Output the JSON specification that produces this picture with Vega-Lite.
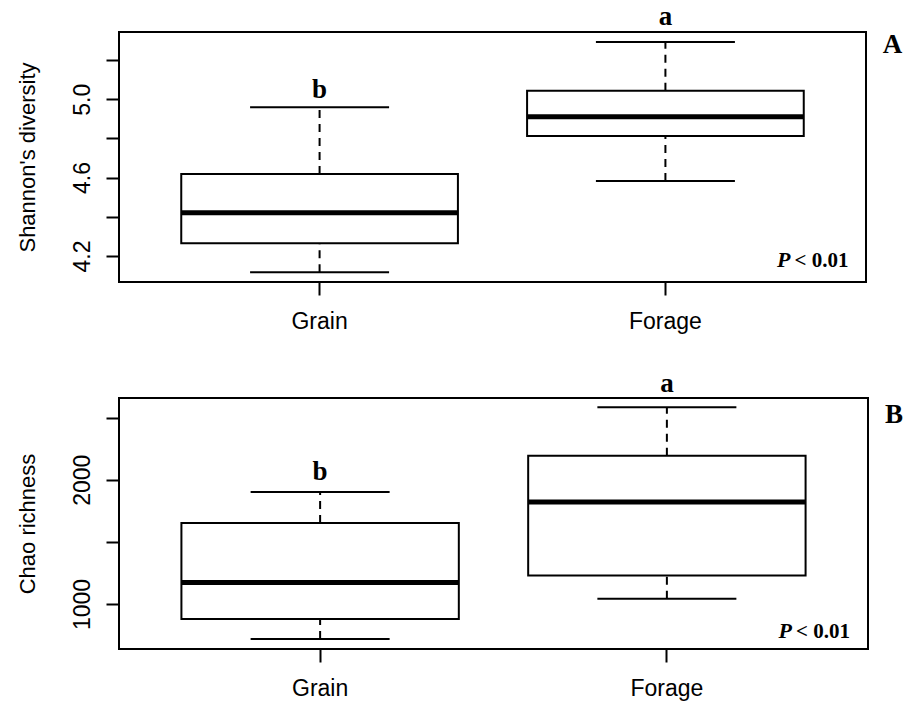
{
  "$schema": "https://vega.github.io/schema/vega-lite/v6.json",
  "background": "white",
  "padding": {"left": 15, "top": 1, "right": 0, "bottom": 0},
  "spacing": 34,
  "config": {
    "view": {"stroke": "black", "strokeWidth": 2},
    "axis": {"labelFont": "Liberation Sans", "labelFontSize": 23, "labelColor": "black", "titleFont": "Liberation Sans", "titleFontSize": 22, "titleFontWeight": "normal", "titleColor": "black", "tickColor": "black", "tickWidth": 2, "tickSize": 13, "grid": false, "domain": false, "labelOverlap": false},
    "axisX": {"labelAngle": 0, "labelPadding": 15},
    "axisY": {"labelAngle": 270, "labelAlign": "center", "labelBaseline": "alphabetic", "labelPadding": 17, "titleAngle": 270, "titleBaseline": "alphabetic", "titleX": -85}
  },
  "datasets": {
    "shannon": [
      {"group": "Grain", "lower": 4.117, "q1": 4.265, "median": 4.421, "q3": 4.618, "upper": 4.959},
      {"group": "Forage", "lower": 4.583, "q1": 4.812, "median": 4.911, "q3": 5.043, "upper": 5.292}
    ],
    "shannonLetters": [
      {"group": "Grain", "letter": "b", "y": 5.006},
      {"group": "Forage", "letter": "a", "y": 5.379}
    ],
    "chao": [
      {"group": "Grain", "lower": 718, "q1": 879, "median": 1174, "q3": 1652, "upper": 1902},
      {"group": "Forage", "lower": 1043, "q1": 1230, "median": 1821, "q3": 2194, "upper": 2583}
    ],
    "chaoLetters": [
      {"group": "Grain", "letter": "b", "y": 2001},
      {"group": "Forage", "letter": "a", "y": 2709}
    ],
    "none": [{}]
  },
  "vconcat": [
    {
      "width": 747,
      "height": 250,
      "layer": [
        {
          "data": {"name": "shannon"},
          "mark": {"type": "rule", "color": "black", "strokeWidth": 2, "strokeDash": [8, 6]},
          "encoding": {
            "x": {"field": "group", "type": "nominal", "sort": ["Grain", "Forage"], "title": null, "scale": {"paddingInner": 0.2, "paddingOuter": 0.18}},
            "y": {"field": "q3", "type": "quantitative", "title": "Shannon's diversity", "scale": {"domain": [4.067, 5.343], "nice": false, "zero": false},
              "axis": {"values": [4.2, 4.4, 4.6, 4.8, 5.0, 5.2], "labelExpr": "(datum.value == 4.2 || datum.value == 4.6 || datum.value == 5) ? format(datum.value, '.1f') : ''"}},
            "y2": {"field": "upper"}
          }
        },
        {
          "data": {"name": "shannon"},
          "mark": {"type": "rule", "color": "black", "strokeWidth": 2, "strokeDash": [8, 6]},
          "encoding": {
            "x": {"field": "group", "type": "nominal", "sort": ["Grain", "Forage"], "title": null},
            "y": {"field": "lower", "type": "quantitative", "title": "Shannon's diversity"},
            "y2": {"field": "q1"}
          }
        },
        {
          "data": {"name": "shannon"},
          "mark": {"type": "bar", "fill": "white", "stroke": "black", "strokeWidth": 2},
          "encoding": {
            "x": {"field": "group", "type": "nominal", "sort": ["Grain", "Forage"], "title": null},
            "y": {"field": "q1", "type": "quantitative", "title": "Shannon's diversity"},
            "y2": {"field": "q3"}
          }
        },
        {
          "data": {"name": "shannon"},
          "mark": {"type": "tick", "color": "black", "size": 277, "thickness": 5, "opacity": 1},
          "encoding": {
            "x": {"field": "group", "type": "nominal", "sort": ["Grain", "Forage"], "title": null},
            "y": {"field": "median", "type": "quantitative", "title": "Shannon's diversity"}
          }
        },
        {
          "data": {"name": "shannon"},
          "mark": {"type": "tick", "color": "black", "size": 139, "thickness": 2, "opacity": 1},
          "encoding": {
            "x": {"field": "group", "type": "nominal", "sort": ["Grain", "Forage"], "title": null},
            "y": {"field": "upper", "type": "quantitative", "title": "Shannon's diversity"}
          }
        },
        {
          "data": {"name": "shannon"},
          "mark": {"type": "tick", "color": "black", "size": 139, "thickness": 2, "opacity": 1},
          "encoding": {
            "x": {"field": "group", "type": "nominal", "sort": ["Grain", "Forage"], "title": null},
            "y": {"field": "lower", "type": "quantitative", "title": "Shannon's diversity"}
          }
        },
        {
          "data": {"name": "shannonLetters"},
          "mark": {"type": "text", "font": "Liberation Serif", "fontWeight": "bold", "fontSize": 27, "baseline": "alphabetic", "align": "center", "color": "black"},
          "encoding": {
            "x": {"field": "group", "type": "nominal", "sort": ["Grain", "Forage"], "title": null},
            "y": {"field": "y", "type": "quantitative", "title": "Shannon's diversity"},
            "text": {"field": "letter"}
          }
        },
        {
          "data": {"name": "none"},
          "mark": {"type": "text", "font": "Liberation Serif", "fontWeight": "bold", "fontStyle": "italic", "fontSize": 22, "baseline": "alphabetic", "align": "right", "color": "black", "dx": 125},
          "encoding": {
            "x": {"datum": "Forage", "type": "nominal", "title": null},
            "y": {"datum": 4.144, "type": "quantitative", "title": "Shannon's diversity"},
            "text": {"value": "P"}
          }
        },
        {
          "data": {"name": "none"},
          "mark": {"type": "text", "font": "Liberation Serif", "fontWeight": "bold", "fontSize": 21, "baseline": "alphabetic", "align": "right", "color": "black", "dx": 183},
          "encoding": {
            "x": {"datum": "Forage", "type": "nominal", "title": null},
            "y": {"datum": 4.144, "type": "quantitative", "title": "Shannon's diversity"},
            "text": {"value": "< 0.01"}
          }
        },
        {
          "data": {"name": "none"},
          "mark": {"type": "text", "font": "Liberation Serif", "fontWeight": "bold", "fontSize": 27, "baseline": "alphabetic", "align": "center", "color": "black", "dx": 227},
          "encoding": {
            "x": {"datum": "Forage", "type": "nominal", "title": null},
            "y": {"datum": 5.236, "type": "quantitative", "title": "Shannon's diversity"},
            "text": {"value": "A"}
          }
        }
      ]
    },
    {
      "width": 749,
      "height": 251,
      "layer": [
        {
          "data": {"name": "chao"},
          "mark": {"type": "rule", "color": "black", "strokeWidth": 2, "strokeDash": [8, 6]},
          "encoding": {
            "x": {"field": "group", "type": "nominal", "sort": ["Grain", "Forage"], "title": null, "scale": {"paddingInner": 0.2, "paddingOuter": 0.18}},
            "y": {"field": "q3", "type": "quantitative", "title": "Chao richness", "scale": {"domain": [638, 2658], "nice": false, "zero": false},
              "axis": {"values": [1000, 1500, 2000, 2500], "labelExpr": "(datum.value == 1000 || datum.value == 2000) ? format(datum.value, 'd') : ''"}},
            "y2": {"field": "upper"}
          }
        },
        {
          "data": {"name": "chao"},
          "mark": {"type": "rule", "color": "black", "strokeWidth": 2, "strokeDash": [8, 6]},
          "encoding": {
            "x": {"field": "group", "type": "nominal", "sort": ["Grain", "Forage"], "title": null},
            "y": {"field": "lower", "type": "quantitative", "title": "Chao richness"},
            "y2": {"field": "q1"}
          }
        },
        {
          "data": {"name": "chao"},
          "mark": {"type": "bar", "fill": "white", "stroke": "black", "strokeWidth": 2},
          "encoding": {
            "x": {"field": "group", "type": "nominal", "sort": ["Grain", "Forage"], "title": null},
            "y": {"field": "q1", "type": "quantitative", "title": "Chao richness"},
            "y2": {"field": "q3"}
          }
        },
        {
          "data": {"name": "chao"},
          "mark": {"type": "tick", "color": "black", "size": 277, "thickness": 5, "opacity": 1},
          "encoding": {
            "x": {"field": "group", "type": "nominal", "sort": ["Grain", "Forage"], "title": null},
            "y": {"field": "median", "type": "quantitative", "title": "Chao richness"}
          }
        },
        {
          "data": {"name": "chao"},
          "mark": {"type": "tick", "color": "black", "size": 139, "thickness": 2, "opacity": 1},
          "encoding": {
            "x": {"field": "group", "type": "nominal", "sort": ["Grain", "Forage"], "title": null},
            "y": {"field": "upper", "type": "quantitative", "title": "Chao richness"}
          }
        },
        {
          "data": {"name": "chao"},
          "mark": {"type": "tick", "color": "black", "size": 139, "thickness": 2, "opacity": 1},
          "encoding": {
            "x": {"field": "group", "type": "nominal", "sort": ["Grain", "Forage"], "title": null},
            "y": {"field": "lower", "type": "quantitative", "title": "Chao richness"}
          }
        },
        {
          "data": {"name": "chaoLetters"},
          "mark": {"type": "text", "font": "Liberation Serif", "fontWeight": "bold", "fontSize": 27, "baseline": "alphabetic", "align": "center", "color": "black"},
          "encoding": {
            "x": {"field": "group", "type": "nominal", "sort": ["Grain", "Forage"], "title": null},
            "y": {"field": "y", "type": "quantitative", "title": "Chao richness"},
            "text": {"field": "letter"}
          }
        },
        {
          "data": {"name": "none"},
          "mark": {"type": "text", "font": "Liberation Serif", "fontWeight": "bold", "fontStyle": "italic", "fontSize": 22, "baseline": "alphabetic", "align": "right", "color": "black", "dx": 125},
          "encoding": {
            "x": {"datum": "Forage", "type": "nominal", "title": null},
            "y": {"datum": 726, "type": "quantitative", "title": "Chao richness"},
            "text": {"value": "P"}
          }
        },
        {
          "data": {"name": "none"},
          "mark": {"type": "text", "font": "Liberation Serif", "fontWeight": "bold", "fontSize": 21, "baseline": "alphabetic", "align": "right", "color": "black", "dx": 183},
          "encoding": {
            "x": {"datum": "Forage", "type": "nominal", "title": null},
            "y": {"datum": 726, "type": "quantitative", "title": "Chao richness"},
            "text": {"value": "< 0.01"}
          }
        },
        {
          "data": {"name": "none"},
          "mark": {"type": "text", "font": "Liberation Serif", "fontWeight": "bold", "fontSize": 27, "baseline": "alphabetic", "align": "center", "color": "black", "dx": 227},
          "encoding": {
            "x": {"datum": "Forage", "type": "nominal", "title": null},
            "y": {"datum": 2459, "type": "quantitative", "title": "Chao richness"},
            "text": {"value": "B"}
          }
        }
      ]
    }
  ]
}
